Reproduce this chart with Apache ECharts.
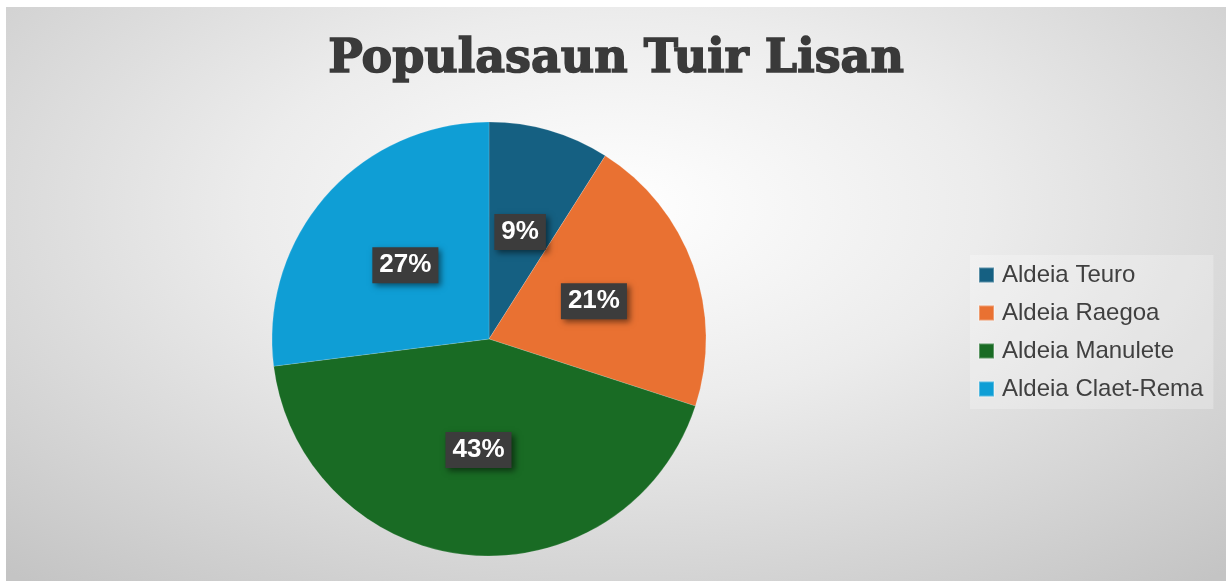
<!DOCTYPE html>
<html>
<head>
<meta charset="utf-8">
<script src="https://cdn.jsdelivr.net/npm/echarts@6/dist/echarts.min.js"></script>
<style>
  html, body { margin: 0; padding: 0; background: #fff; }
  #pieChart {
    position: absolute;
    left: 6px;
    top: 7px;
    width: 1220px;
    height: 574px;
    background: radial-gradient(ellipse 75% 85% at 50% 35%, #ffffff 0%, #ececec 40%, #c4c4c4 100%);
  }
</style>
</head>
<body>
<div id="pieChart"></div>
<script>
  // dados
  var aldeias = ['Aldeia Teuro', 'Aldeia Raegoa', 'Aldeia Manulete', 'Aldeia Claet-Rema'];
  var persentajen = [9, 21, 43, 27];
  var koresId = ['#156082', '#E97132', '#196B24', '#0F9ED5'];

  var myChart = echarts.init(document.getElementById('pieChart'));
  var option = {
    backgroundColor: 'transparent',
    title: {
      text: 'Populasaun Tuir Lisan',
      left: 'center',
      top: 25,
      textStyle: {
        fontFamily: 'DejaVu Serif',
        fontWeight: 'bold',
        fontSize: 46,
        color: '#3a3a3a',
        textBorderColor: '#3a3a3a',
        textBorderWidth: 1.5
      }
    },
    color: koresId,
    legend: {
      orient: 'vertical',
      left: 964,
      top: 248,
      icon: 'rect',
      itemWidth: 15,
      itemHeight: 15,
      itemGap: 14,
      padding: [8, 10, 8, 8],
      backgroundColor: 'rgba(255,255,255,0.25)',
      textStyle: {
        fontFamily: 'Liberation Sans',
        fontSize: 24,
        color: '#404040',
        padding: [0, 0, 0, 3]
      },
      data: aldeias
    },
    series: [{
      type: 'pie',
      center: [483, 332],
      radius: 217,
      startAngle: 90,
      clockwise: true,
      percentPrecision: 0,
      itemStyle: {
        borderColor: 'rgba(255,255,255,0.3)',
        borderWidth: 0.5
      },
      label: {
        show: true,
        position: 'inside',
        formatter: '{d}%',
        fontFamily: 'Liberation Sans',
        fontWeight: 'bold',
        fontSize: 26,
        color: '#fff',
        backgroundColor: '#3c3c3c',
        padding: [6, 7, 4, 7],
        shadowColor: 'rgba(0,0,0,0.5)',
        shadowBlur: 6,
        shadowOffsetX: 3,
        shadowOffsetY: 3
      },
      labelLine: { show: false },
      emphasis: { disabled: true },
      data: aldeias.map(function (n, i) {
        return { name: n, value: persentajen[i] };
      })
    }]
  };
  myChart.setOption(option, true);
  window.onresize = function () {
    myChart.resize();
  };
</script>
</body>
</html>
